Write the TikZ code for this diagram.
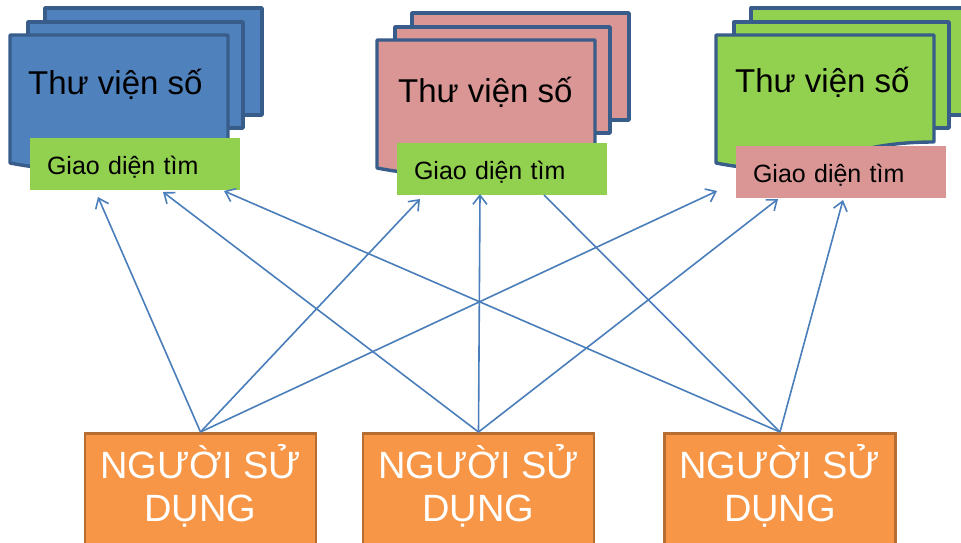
\documentclass[tikz,border=0pt]{standalone}
\usepackage{fontspec}
\setmainfont{Liberation Sans}
\usetikzlibrary{arrows.meta}

\definecolor{libblue}{RGB}{79,129,189}
\definecolor{libline}{RGB}{56,93,138}
\definecolor{libpink}{RGB}{217,150,148}
\definecolor{libgreen}{RGB}{146,208,80}
\definecolor{userfill}{RGB}{247,150,70}
\definecolor{userline}{RGB}{182,109,49}
\definecolor{linkblue}{RGB}{74,126,187}

\tikzset{
  page/.style={draw=libline, line width=3.4pt, line join=round, fill=#1},
  % a stack of three pages, the front one with a wavy lower edge
  pics/library/.style={code={
    \draw[page=#1] (35,-27) rectangle (252,80);
    \draw[page=#1] (18,-13) rectangle (233,93);
    \draw[page=#1] (0,0) -- (218,0) -- (218,107)
      .. controls (109,107) and (109,149) .. (0,128) -- cycle;
  }},
  title/.style={anchor=base west, inner sep=0pt, font=\fontsize{33}{36}\selectfont},
  search/.style={fill=#1, minimum width=210pt, minimum height=52pt,
    text width=176pt, inner xsep=17pt, inner ysep=0pt, align=left,
    text height=27pt, text depth=5.5pt, font=\fontsize{25}{28}\selectfont},
  user/.style={draw=userline, line width=2.6pt, fill=userfill, text=white,
    minimum width=231pt, minimum height=120pt, anchor=north, align=center,
    text depth=21pt, font=\fontsize{38}{43}\selectfont},
  link/.style={draw=linkblue, line width=1.6pt},
  linkhead/.style={link, -{Straight Barb[length=9pt,width=14pt]}},
}

\begin{document}
\begin{tikzpicture}[x=1pt, y=-1pt]
  \useasboundingbox (0,0) rectangle (961,542);
  \clip (0,0) rectangle (961,542);

  % digital libraries
  \pic at (10,35)  {library=libblue};
  \pic at (377,40) {library=libpink};
  \pic at (716,35) {library=libgreen};

  \node[title] (lib1) at (28,94)  {Thư viện số};
  \node[title] (lib2) at (398,102) {Thư viện số};
  \node[title] (lib3) at (735,92)  {Thư viện số};

  % search interfaces
  \node[search=libgreen] (g1) at (135,164) {Giao diện tìm};
  \node[search=libgreen] (g2) at (502,169) {Giao diện tìm};
  \node[search=libpink]  (g3) at (841,172) {Giao diện tìm};

  % users
  \node[user] (u1) at (200.5,432) {NGƯỜI SỬ\\DỤNG};
  \node[user] (u2) at (478.5,432) {NGƯỜI SỬ\\DỤNG};
  \node[user] (u3) at (780,432)   {NGƯỜI SỬ\\DỤNG};

  % arrow ends under the interfaces
  \coordinate (t1a) at (98,197);
  \coordinate (t1b) at (163,192);
  \coordinate (t1c) at (224,191);
  \coordinate (t2a) at (420,199);
  \coordinate (t2b) at (480,194);
  \coordinate (t2c) at (544,195);
  \coordinate (t3a) at (717,191);
  \coordinate (t3b) at (778,199);
  \coordinate (t3c) at (843,200);

  % every user reaches every library
  \draw[linkhead] (u1.north) -- (t1a);
  \draw[linkhead] (u1.north) -- (t2a);
  \draw[linkhead] (u1.north) -- (t3a);
  \draw[linkhead] (u2.north) -- (t1b);
  \draw[linkhead] (u2.north) -- (t2b);
  \draw[linkhead] (u2.north) -- (t3b);
  \draw[linkhead] (u3.north) -- (t1c);
  \draw[link]     (u3.north) -- (t2c);
  \draw[linkhead] (u3.north) -- (t3c);
\end{tikzpicture}
\end{document}
